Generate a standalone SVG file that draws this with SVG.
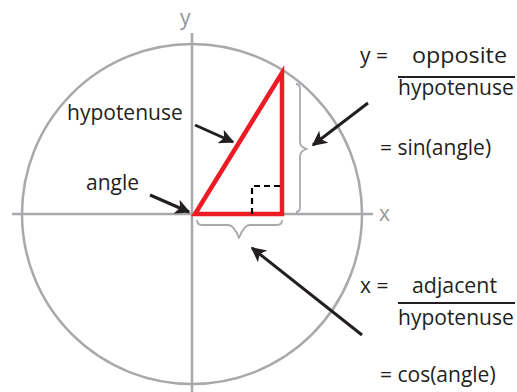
<svg xmlns="http://www.w3.org/2000/svg" width="517" height="392" viewBox="0 0 517 392">
<defs>
<style>
.t{font-family:"Open Sans","Noto Sans","Liberation Sans",sans-serif;font-size:21px;fill:#231f20}
.ax{font-family:"Open Sans","Noto Sans","Liberation Sans",sans-serif;font-size:21px;fill:#939598}
.g{stroke:#a7a9ac;stroke-width:2.5;fill:none}
.br{stroke:#a7a9ac;stroke-width:1.8;fill:none;stroke-linejoin:round}
.arr{stroke:#231f20;stroke-width:3;fill:none;marker-end:url(#ah)}
.frac{stroke:#231f20;stroke-width:2}
</style>
<marker id="ah" viewBox="0 0 10 10" refX="9" refY="5" markerUnits="userSpaceOnUse" markerWidth="18" markerHeight="15" orient="auto">
<path d="M0,0 L10,5 L0,10 L2.5,5 Z" fill="#231f20"/>
</marker>
</defs>
<g id="axes">
<circle class="g" cx="192" cy="214" r="170"/>
<line class="g" x1="12" y1="214" x2="373" y2="214"/>
<line class="g" x1="192" y1="33" x2="192" y2="392"/>
<text class="ax" x="180" y="25">y</text>
<text class="ax" x="379" y="221">x</text>
</g>
<g id="triangle">
<polygon points="195,214 282,73 282,214" fill="none" stroke="#ed1c24" stroke-width="4.5" stroke-linejoin="miter"/>
<path d="M252,214 V186 H280" fill="none" stroke="#000" stroke-width="2.2" stroke-dasharray="6,4"/>
</g>
<g id="braces">
<path class="br" d="M296,84 Q300,84 300,89 V142 Q300,147 307,149 Q300,151 300,156 V207 Q300,212 296,212"/>
<path class="br" d="M197,220 Q197,225 202,225 H228 Q234,225 239,238 Q244,225 250,225 H277 Q282,225 282,220"/>
</g>
<g id="connectors">
<line class="arr" x1="195" y1="125" x2="233" y2="142"/>
<line class="arr" x1="150" y1="195" x2="189" y2="212"/>
<line class="arr" x1="368" y1="103" x2="313" y2="145"/>
<line class="arr" x1="362" y1="335" x2="252" y2="248"/>
</g>
<g id="labels">
<text class="t" x="67" y="120">hypotenuse</text>
<text class="t" x="86" y="190">angle</text>
<text class="t" x="360" y="63">y =</text>
<text class="t" x="412" y="63" textLength="95" lengthAdjust="spacingAndGlyphs">opposite</text>
<line class="frac" x1="398" y1="77" x2="515" y2="77"/>
<text class="t" x="398" y="95">hypotenuse</text>
<text class="t" x="380" y="155">= sin(angle)</text>
<text class="t" x="360" y="293">x =</text>
<text class="t" x="412" y="293" textLength="85" lengthAdjust="spacingAndGlyphs">adjacent</text>
<line class="frac" x1="398" y1="303" x2="515" y2="303"/>
<text class="t" x="398" y="325">hypotenuse</text>
<text class="t" x="380" y="382">= cos(angle)</text>
</g>
</svg>
